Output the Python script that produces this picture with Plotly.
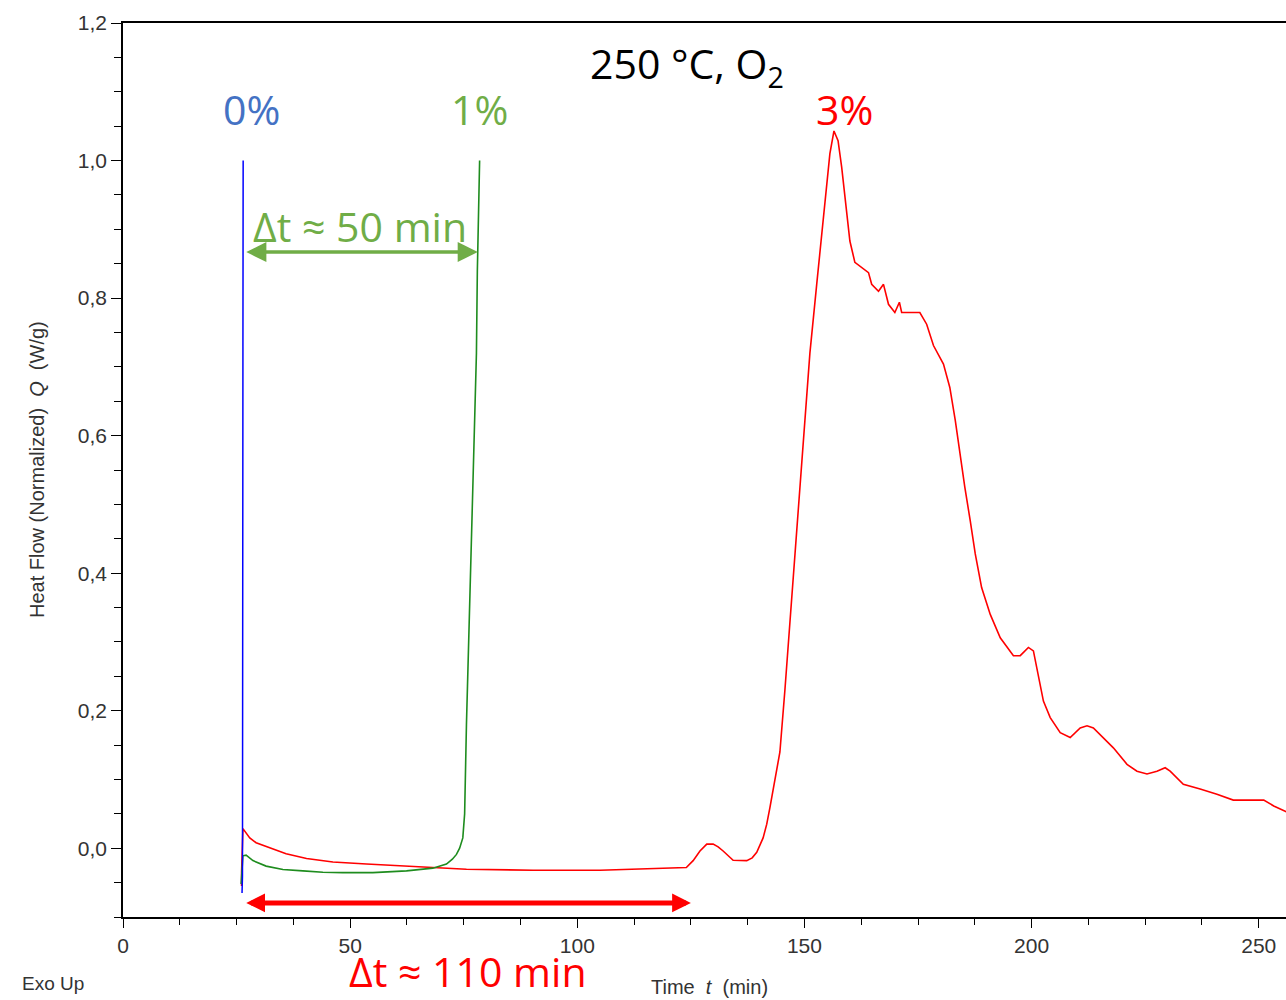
import plotly.graph_objects as go

# ---- data ----
t_blue = [26.2, 26.3, 26.4, 26.45]
q_blue = [-0.065, -0.04, 0.73, 1.0]

t_green = [26.0, 26.2, 26.4, 27.1, 28.6, 31.5, 35.2, 39.6, 44.0, 48.4, 55.0, 62.4, 68.2,
           71.2, 72.5, 73.4, 74.1, 74.8, 75.2, 75.6, 75.9, 76.2, 76.5, 76.8, 77.0, 77.4,
           77.8, 78.0, 78.3, 78.5]
q_green = [-0.052, -0.03, -0.011, -0.010, -0.018, -0.026, -0.031, -0.033, -0.035, -0.0355,
           -0.0355, -0.033, -0.029, -0.023, -0.016, -0.009, 0.0, 0.015, 0.05, 0.18, 0.25,
           0.32, 0.39, 0.46, 0.52, 0.60, 0.72, 0.84, 0.97, 1.0]

t_red = [26.1, 26.1, 26.4, 27.9, 29.3, 32.3, 35.9, 40.4, 46.2, 53.6, 60.9, 68.2, 75.6, 90.3,
         105.0, 124.0, 125.5, 127.0, 128.5, 129.9, 131.0, 132.1, 134.3, 137.3, 138.5, 139.5,
         140.9, 141.7, 142.4, 143.5, 144.6, 145.7, 146.8, 147.9, 149.0, 150.1, 151.2, 152.7,
         153.6, 154.5, 155.6, 156.5, 157.4, 158.2, 159.3, 160.0, 161.1, 162.6, 164.1, 164.8,
         166.3, 167.4, 168.5, 169.9, 170.9, 171.4, 174.0, 175.4, 176.9, 178.4, 180.6, 182.0,
         183.2, 184.2, 185.3, 186.5, 187.6, 189.0, 190.9, 193.1, 196.0, 197.5, 199.3, 200.4,
         201.5, 202.6, 204.1, 206.3, 208.5, 210.7, 212.2, 213.6, 218.0, 221.0, 223.2, 225.4,
         227.6, 229.4, 230.5, 233.4, 237.1, 240.8, 244.4, 251.1, 253.3, 256.1]
q_red = [-0.055, -0.035, 0.0285, 0.015, 0.008, 0.001, -0.008, -0.015, -0.020, -0.023, -0.026,
         -0.028, -0.0305, -0.032, -0.032, -0.028, -0.018, -0.004, 0.006, 0.006, 0.002, -0.004,
         -0.0175, -0.018, -0.014, -0.006, 0.015, 0.035, 0.059, 0.098, 0.14, 0.23, 0.33, 0.43,
         0.53, 0.63, 0.72, 0.82, 0.879, 0.946, 1.01, 1.043, 1.029, 0.99, 0.927, 0.883, 0.852,
         0.845, 0.837, 0.82, 0.81, 0.82, 0.791, 0.779, 0.794, 0.779, 0.779, 0.779, 0.762, 0.731,
         0.704, 0.67, 0.622, 0.573, 0.525, 0.476, 0.428, 0.379, 0.34, 0.306, 0.28, 0.28, 0.292,
         0.287, 0.253, 0.214, 0.19, 0.168, 0.161, 0.175, 0.178, 0.175, 0.146, 0.122, 0.112,
         0.108, 0.112, 0.117, 0.112, 0.093, 0.086, 0.0785, 0.07, 0.07, 0.0615, 0.053]

x_ticks = [0, 50, 100, 150, 200, 250]
y_ticks = [0.0, 0.2, 0.4, 0.6, 0.8, 1.0, 1.2]

fig = go.Figure()
fig.add_trace(go.Scatter(x=t_red, y=q_red, mode="lines", line=dict(color="#FF0000", width=1.6), showlegend=False))
fig.add_trace(go.Scatter(x=t_green, y=q_green, mode="lines", line=dict(color="#1E8C1E", width=1.6), showlegend=False))
fig.add_trace(go.Scatter(x=t_blue, y=q_blue, mode="lines", line=dict(color="#0000FF", width=1.5), showlegend=False))

big = "Open Sans"
small = "Liberation Sans Narrow, Liberation Sans, Arial"
ann = []
ann.append(dict(x=124.2, y=1.138, text="250 °C, O<sub>2</sub>", showarrow=False,
                font=dict(family=big, size=41, color="black")))
ann.append(dict(x=28.3, y=1.075, text="0%", showarrow=False, font=dict(family=big, size=41, color="#4472C4")))
ann.append(dict(x=78.5, y=1.075, text="1%", showarrow=False, font=dict(family=big, size=41, color="#70AD47")))
ann.append(dict(x=158.9, y=1.075, text="3%", showarrow=False, font=dict(family=big, size=41, color="#FF0000")))
ann.append(dict(x=52.1, y=0.905, text="Δt ≈ 50 min", showarrow=False, font=dict(family=big, size=41, color="#70AD47")))
ann.append(dict(x=75.9, y=0, xref="x", yref="paper", yshift=-54, xanchor="center", yanchor="middle",
                text="Δt ≈ 110 min", showarrow=False,
                font=dict(family=big, size=41, color="#FF0000")))
# double arrows
ann.append(dict(x=78.1, y=0.867, ax=26.8, ay=0.867, axref="x", ayref="y", xref="x", yref="y", text="",
                showarrow=True, arrowhead=2, arrowside="end+start", arrowwidth=3.5, arrowsize=1.15, arrowcolor="#70AD47"))
ann.append(dict(x=125.0, y=-0.0795, ax=26.8, ay=-0.0795, axref="x", ayref="y", xref="x", yref="y", text="",
                showarrow=True, arrowhead=2, arrowside="end+start", arrowwidth=5, arrowsize=0.75, arrowcolor="#FF0000"))
# axis titles and Exo Up
ann.append(dict(xref="paper", yref="paper", x=0, y=0.5, xshift=-86, xanchor="center", yanchor="middle",
                text="Heat Flow (Normalized)  <i>Q</i>  (W/g)",
                textangle=-90, showarrow=False, font=dict(family=small, size=20, color="#333333")))
ann.append(dict(xref="paper", yref="paper", x=0.5047, y=0, yshift=-70, xanchor="center", yanchor="middle",
                text="Time  <i>t</i>  (min)",
                showarrow=False, font=dict(family=small, size=20, color="#333333")))
ann.append(dict(xref="paper", yref="paper", x=0, y=0, xshift=-70, yshift=-66, xanchor="center", yanchor="middle",
                text="Exo Up",
                showarrow=False, font=dict(family="Liberation Sans, Arial", size=19, color="#333333")))

fig.update_layout(
    width=1286, height=1000,
    margin=dict(l=123, r=0, t=23, b=83),
    paper_bgcolor="white", plot_bgcolor="white",
    separators=", ",
    annotations=ann,
    showlegend=False,
)
fig.update_xaxes(range=[0, 256], tickvals=x_ticks, ticks="outside", ticklen=9, tickwidth=1.3, tickcolor="black",
                 showline=True, linecolor="black", linewidth=1.5, mirror=True, showgrid=False, zeroline=False,
                 tickfont=dict(family=small, size=21, color="#333333"),
                 minor=dict(dtick=12.5, tick0=0, ticks="outside", ticklen=6, tickcolor="black", tickwidth=1.2))
fig.update_yaxes(range=[-0.1, 1.2], tickvals=y_ticks, tickformat=".1f", ticks="outside", ticklen=10, tickwidth=1.3,
                 tickcolor="black", showline=True, linecolor="black", linewidth=1.5, showgrid=False, zeroline=False,
                 tickfont=dict(family=small, size=21, color="#333333"),
                 minor=dict(dtick=0.05, tick0=0, ticks="outside", ticklen=7, tickcolor="black", tickwidth=1.2))

fig.write_html("out.html", config={"displayModeBar": False},
               post_script="document.body.style.margin='0';document.body.style.overflow='hidden';")
